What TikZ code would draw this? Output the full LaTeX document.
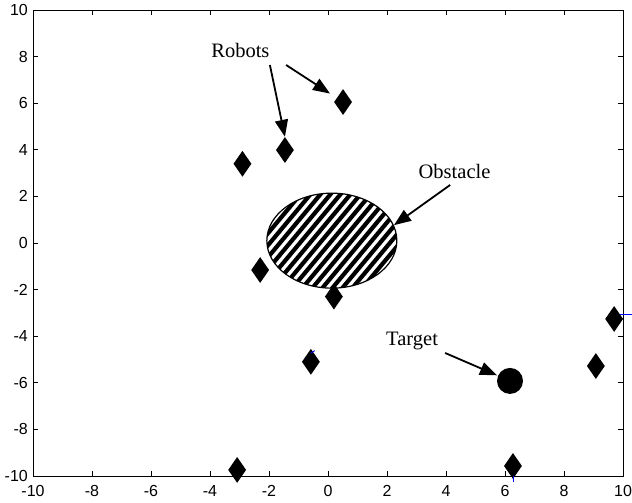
\documentclass[tikz,border=0pt]{standalone}
\usepackage{fontspec}
\setmainfont{Liberation Serif}
\newfontfamily\axfont{Liberation Sans}
\usetikzlibrary{arrows.meta,shapes.geometric}
\begin{document}
\begin{tikzpicture}[x=29.5pt,y=23.3pt,
  robot/.style={diamond,fill=black,draw=none,minimum width=18pt,minimum height=26pt,inner sep=0pt},
  ann/.style={font=\fontsize{20.5pt}{24pt}\selectfont,inner sep=0pt},
  ticklab/.style={font=\axfont\fontsize{16pt}{18pt}\selectfont,inner sep=1pt},
  arr/.style={line width=1.8pt,-{Triangle[length=17pt,width=13pt]}},
  bluemark/.style={draw=blue,line width=0.9pt}]
\fill[white] (-11.119,-11.159) rectangle (10.305,10.429);
\useasboundingbox (-11.119,-11.159) rectangle (10.305,10.429);
% axes box
\draw[line width=0.9pt] (-10,-10) rectangle (10,10);
\foreach \t in {-8,-6,...,8} {
  \draw[line width=0.9pt] (\t,-10) -- ++(0,5pt);
  \draw[line width=0.9pt] (\t,10) -- ++(0,-5pt);
  \draw[line width=0.9pt] (-10,\t) -- ++(5pt,0);
  \draw[line width=0.9pt] (10,\t) -- ++(-5pt,0);
}
\foreach \t in {-10,-8,...,10} {
  \node[ticklab,anchor=base] (xl\t) at ([yshift=-21pt]\t,-10) {\t};
  \node[ticklab,anchor=east] (yl\t) at ([xshift=-4pt]-10,\t) {\t};
}
% obstacle
\node[ellipse,draw,line width=1.2pt,minimum width=130pt,minimum height=95pt,inner sep=0pt,
  path picture={\foreach \i in {-16,...,16}
    \draw[line width=4.2pt] ([xshift=\i*10pt-70pt,yshift=-84pt]path picture bounding box.center) -- ++(140pt,168pt);}]
  (obs) at (0.13,0.1) {};
% robots
\node[robot] (r1) at (0.51,6.05) {};
\node[robot] (r2) at (-1.46,3.99) {};
\node[robot] (r3) at (-2.9,3.4) {};
\node[robot] (r4) at (-2.3,-1.16) {};
\node[robot] (r5) at (0.2,-2.3) {};
\node[robot] (r6) at (-0.58,-5.1) {};
\node[robot] (r7) at (-3.08,-9.74) {};
\node[robot] (r8) at (6.27,-9.57) {};
\node[robot] (r9) at (9.08,-5.28) {};
\node[robot] (r10) at (9.7,-3.26) {};
% target
\node[circle,fill=black,minimum size=26pt,inner sep=0pt] (tgt) at (6.17,-5.92) {};
% blue remnants
\draw[bluemark] (9.9,-3.05) -- (10.3,-3.05);
\draw[bluemark] (-0.58,-4.72) -- (-0.45,-4.62);
\draw[bluemark] (6.27,-10) -- ++(0,-6pt);
% labels
\node[ann] (lrob) at (-2.97,8.28) {Robots};
\node[ann] (lobs) at (4.29,3.09) {Obstacle};
\node[ann] (ltgt) at (2.85,-4.21) {Target};
\coordinate (ra) at (-1.97,7.64);
\coordinate (rb) at (-1.42,7.64);
\coordinate (os) at (4.14,2.49);
\coordinate (ts) at (3.97,-4.72);
\draw[arr] (ra) -- (r2.north);
\draw[arr,shorten >=8pt] (rb) -- (r1);
\draw[arr] (os) -- (obs.14);
\draw[arr,shorten >=1pt] (ts) -- (tgt);
\end{tikzpicture}
\end{document}
